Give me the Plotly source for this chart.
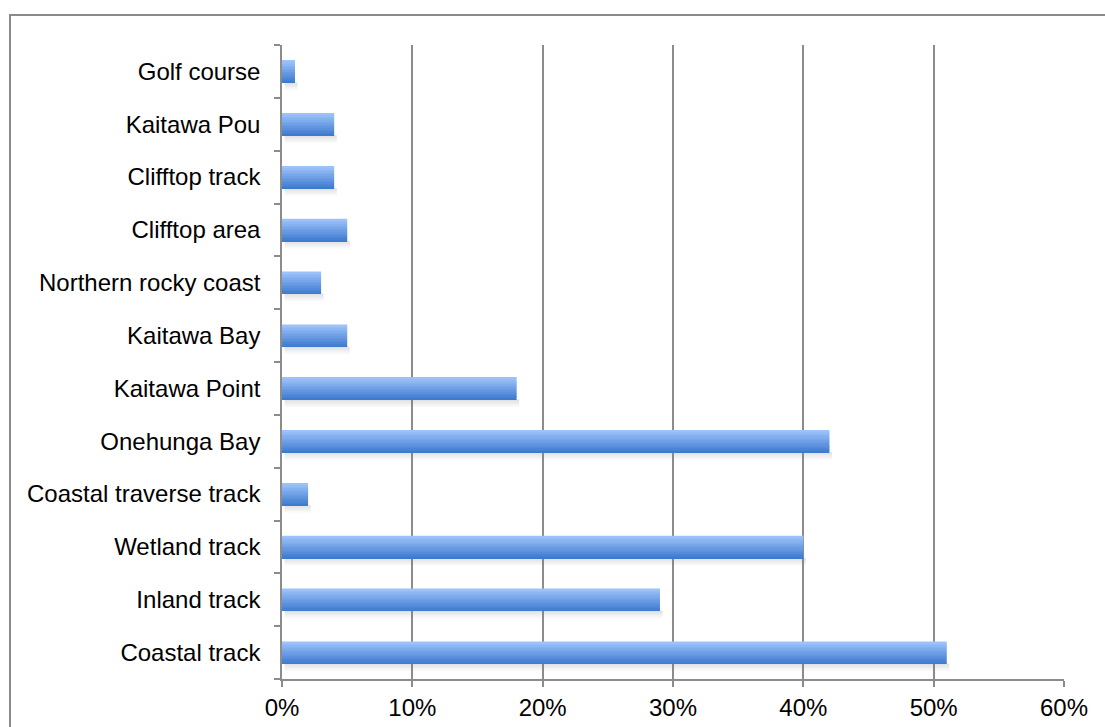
import plotly.graph_objects as go

# Data (bottom to top as drawn)
categories = ["Coastal track", "Inland track", "Wetland track", "Coastal traverse track",
              "Onehunga Bay", "Kaitawa Point", "Kaitawa Bay", "Northern rocky coast",
              "Clifftop area", "Clifftop track", "Kaitawa Pou", "Golf course"]
values = [0.51, 0.29, 0.40, 0.02, 0.42, 0.18, 0.05, 0.03, 0.05, 0.04, 0.04, 0.01]
x_ticks = [0, 0.1, 0.2, 0.3, 0.4, 0.5, 0.6]
x_tick_labels = ["0%", "10%", "20%", "30%", "40%", "50%", "60%"]

W, H = 1105, 727
L, R, T, B = 282, 41, 45, 48
pw, ph = W - L - R, H - T - B

fig = go.Figure()

half = 0.21
# soft shadow below bars
shadow_steps = 5
sh = 0.028
for i in range(shadow_steps):
    a = 0.22 * (1 - i / shadow_steps)
    fig.add_trace(go.Bar(
        y=categories, x=values, orientation="h",
        base=[0.002] * len(values),
        offset=-half - (i + 1) * sh, width=sh,
        marker=dict(color=f"rgba(120,120,120,{a:.3f})", line=dict(width=0)),
        hoverinfo="skip", showlegend=False))

# gradient bar made of slices (dark at bottom, light at top)
N = 14
dark = (62, 122, 206)
light = (155, 194, 250)
w = 2 * half / N
for i in range(N):
    t = i / (N - 1)
    c = tuple(int(round(dark[k] + (light[k] - dark[k]) * t)) for k in range(3))
    fig.add_trace(go.Bar(
        y=categories, x=values, orientation="h",
        offset=-half + i * w, width=w * 1.02,
        marker=dict(color=f"rgb{c}", line=dict(width=0)),
        hoverinfo="skip", showlegend=False))

grid = "#8c8c8c"
fig.update_layout(
    width=W, height=H,
    margin=dict(l=L, r=R, t=T, b=B, pad=0, autoexpand=False),
    paper_bgcolor="white", plot_bgcolor="white",
    barmode="overlay",
    font=dict(family="Liberation Sans, Arial, sans-serif", size=24, color="black"),
    xaxis=dict(range=[0, 0.6], tickvals=x_ticks, ticktext=x_tick_labels,
               showgrid=True, gridcolor=grid, gridwidth=1.5,
               showline=True, linecolor=grid, linewidth=1.5,
               ticks="outside", ticklen=6, tickcolor=grid, tickwidth=1.5,
               ticklabelstandoff=0, automargin=False,
               zeroline=False, fixedrange=True),
    yaxis=dict(type="category", categoryorder="array", categoryarray=categories,
               range=[-0.5, len(categories) - 0.5],
               showgrid=False, showline=True, linecolor=grid, linewidth=1.5,
               ticks="outside", ticklen=6, tickcolor=grid, tickwidth=1.5,
               tickson="boundaries", ticklabelstandoff=15, automargin=False,
               zeroline=False, fixedrange=True),
)

# chart frame (extends past right and bottom edges, as in the reference)
fig.add_shape(type="rect", xref="paper", yref="paper",
              x0=(10 - L) / pw, x1=(W + 10 - L) / pw,
              y0=(H - B - (H + 10)) / ph, y1=(H - B - 15) / ph,
              line=dict(color="#8a8a8a", width=2), fillcolor="rgba(0,0,0,0)",
              layer="below")

fig.write_html("out.html")
